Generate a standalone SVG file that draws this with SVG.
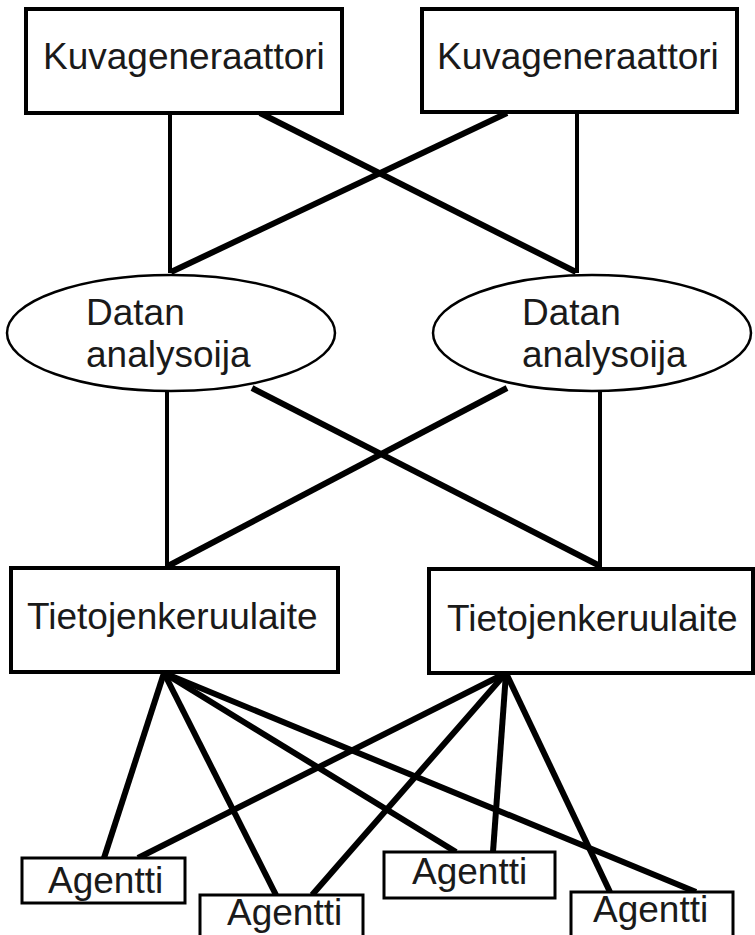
<svg xmlns="http://www.w3.org/2000/svg" width="755" height="935" viewBox="0 0 755 935">
<style>
.box{fill:#fff;stroke:#000;stroke-width:4}
.ag{fill:#fff;stroke:#000;stroke-width:3}
.el{fill:#fff;stroke:#000;stroke-width:2.5}
.t{font-family:"Liberation Sans",Arial,sans-serif;font-size:37px;fill:#1a1a1a}
.c{stroke:#000;stroke-linecap:butt;fill:none}
.v{stroke-width:4}
.d{stroke-width:6}
</style>
<rect width="755" height="935" fill="#fff"/>
<g id="connectors">
<line class="c v" x1="170" y1="113" x2="170" y2="273"/>
<line class="c d" x1="260" y1="113" x2="576" y2="272"/>
<line class="c d" x1="507" y1="113" x2="171" y2="272"/>
<line class="c v" x1="577" y1="113" x2="577" y2="273"/>
<line class="c v" x1="167" y1="392" x2="167" y2="567"/>
<line class="c d" x1="252" y1="388" x2="600" y2="566"/>
<line class="c d" x1="507" y1="388" x2="168" y2="566"/>
<line class="c v" x1="600" y1="392" x2="600" y2="567"/>
<line class="c d" x1="164" y1="673" x2="104" y2="858"/>
<line class="c d" x1="164" y1="673" x2="276" y2="895"/>
<line class="c d" x1="164" y1="673" x2="456" y2="852"/>
<line class="c d" x1="164" y1="673" x2="696" y2="892"/>
<line class="c d" x1="506" y1="673" x2="138" y2="858"/>
<line class="c d" x1="506" y1="673" x2="312" y2="895"/>
<line class="c d" x1="506" y1="673" x2="493" y2="852"/>
<line class="c d" x1="506" y1="673" x2="610" y2="892"/>
</g>
<g id="kuva1"><rect class="box" x="26" y="9" width="316" height="104"/><text class="t" x="43" y="69">Kuvageneraattori</text></g>
<g id="kuva2"><rect class="box" x="422" y="9" width="315" height="103"/><text class="t" x="437" y="69">Kuvageneraattori</text></g>
<g id="data1"><ellipse class="el" cx="171" cy="333" rx="164" ry="58"/><text class="t" x="86" y="325">Datan</text><text class="t" x="86" y="367">analysoija</text></g>
<g id="data2"><ellipse class="el" cx="592" cy="333" rx="159" ry="58"/><text class="t" x="522" y="325">Datan</text><text class="t" x="522" y="367">analysoija</text></g>
<g id="tieto1"><rect class="box" x="11" y="568" width="327" height="104"/><text class="t" x="27" y="629">Tietojenkeruulaite</text></g>
<g id="tieto2"><rect class="box" x="429" y="569" width="324" height="104"/><text class="t" x="447" y="631">Tietojenkeruulaite</text></g>
<g id="agentti1"><rect class="ag" x="22" y="858" width="163" height="45"/><text class="t" x="48" y="893">Agentti</text></g>
<g id="agentti2"><rect class="ag" x="200" y="895" width="163" height="45"/><text class="t" x="227" y="925">Agentti</text></g>
<g id="agentti3"><rect class="ag" x="384" y="852" width="171" height="46"/><text class="t" x="412" y="884">Agentti</text></g>
<g id="agentti4"><rect class="ag" x="571" y="892" width="162" height="48"/><text class="t" x="593" y="922">Agentti</text></g>
</svg>
